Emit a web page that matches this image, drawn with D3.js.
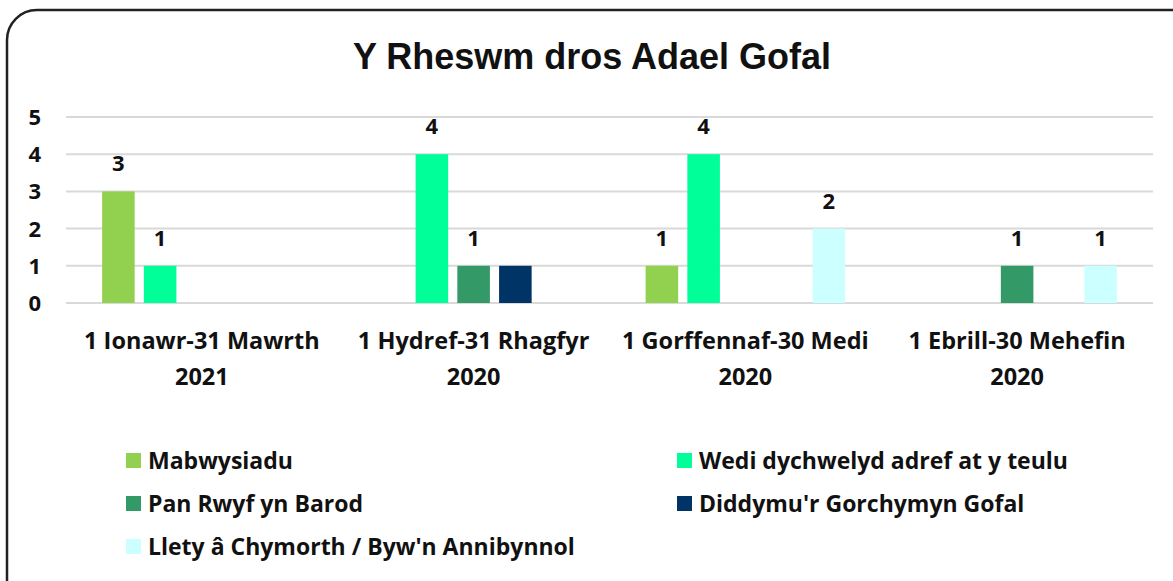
<!DOCTYPE html>
<html>
<head>
<meta charset="utf-8">
<script src="https://cdn.jsdelivr.net/npm/d3@7"></script>
<style>
  body { margin: 0; background: #fff; }
  svg text { font-family: "Open Sans", Lato, sans-serif; }
</style>
</head>
<body>
<div id="chart"></div>
<script>
const periods = [
    ["1 Ionawr-31 Mawrth", "2021"],
    ["1 Hydref-31 Rhagfyr", "2020"],
    ["1 Gorffennaf-30 Medi", "2020"],
    ["1 Ebrill-30 Mehefin", "2020"],
];
const reasons = [
    "Mabwysiadu",
    "Wedi dychwelyd adref at y teulu",
    "Pan Rwyf yn Barod",
    "Diddymu'r Gorchymyn Gofal",
    "Llety â Chymorth / Byw'n Annibynnol",
];
const colours = ["#92D050", "#00FF99", "#339966", "#003366", "#CCFFFF"];

// one row per period, one value per reason (0 = no bar)
const counts = [
    [3, 1, 0, 0, 0],
    [0, 4, 1, 1, 0],
    [1, 4, 0, 0, 2],
    [0, 0, 1, 0, 1],
];
// the Diddymu series has no data labels in the original
const labelled = [true, true, true, false, true];
const yTicks = [0, 1, 2, 3, 4, 5];

const width = 1173;
const height = 581;
const plotLeft = 66;
const plotRight = 1153;

const svg = d3.create("svg")
    .attr("width", width)
    .attr("height", height);

// frame
svg.append("rect")
    .attr("x", 7)
    .attr("y", 10)
    .attr("width", 1195)
    .attr("height", 600)
    .attr("rx", 30)
    .attr("fill", "#fff")
    .attr("stroke", "#222")
    .attr("stroke-width", 2.5);

svg.append("text")
    .attr("x", 592)
    .attr("y", 69)
    .attr("text-anchor", "middle")
    .attr("font-size", "36px")
    .attr("font-weight", "bold")
    .style("font-family", "'Liberation Sans', Arial, sans-serif")
    .attr("fill", "#111")
    .text("Y Rheswm dros Adael Gofal");

const y = d3.scaleLinear()
    .domain([0, 5])
    .range([303, 117]);

const x0 = d3.scaleBand()
    .domain(d3.range(periods.length))
    .range([plotLeft, plotRight])
    .paddingInner(0.232)
    .paddingOuter(0.116);

const x1 = d3.scaleBand()
    .domain(d3.range(reasons.length))
    .range([0, x0.bandwidth()])
    .paddingInner(0.22)
    .paddingOuter(0.11);

// gridlines
svg.append("g")
    .selectAll("line")
    .data(yTicks)
    .join("line")
    .attr("x1", plotLeft)
    .attr("x2", plotRight)
    .attr("y1", d => y(d))
    .attr("y2", d => y(d))
    .attr("stroke", "#d9d9d9")
    .attr("stroke-width", 2);

// y tick labels
svg.append("g")
    .selectAll("text")
    .data(yTicks)
    .join("text")
    .attr("x", 41)
    .attr("y", d => y(d))
    .attr("dy", "0.36em")
    .attr("text-anchor", "end")
    .attr("font-size", "22px")
    .attr("font-weight", "bold")
    .attr("fill", "#111")
    .text(d => d);

const cells = counts.flatMap((row, p) =>
    row.map((v, r) => ({ p, r, v })).filter(d => d.v > 0));

const groups = svg.append("g");

groups.selectAll("rect")
    .data(cells)
    .join("rect")
    .attr("x", d => x0(d.p) + x1(d.r))
    .attr("y", d => y(d.v))
    .attr("width", x1.bandwidth())
    .attr("height", d => y(0) - y(d.v))
    .attr("fill", d => colours[d.r]);

groups.selectAll("text")
    .data(cells.filter(d => labelled[d.r]))
    .join("text")
    .attr("x", d => x0(d.p) + x1(d.r) + x1.bandwidth() / 2)
    .attr("y", d => y(d.v) - 20)
    .attr("text-anchor", "middle")
    .attr("font-size", "22px")
    .attr("font-weight", "bold")
    .attr("fill", "#111")
    .text(d => d.v);

// category labels (two lines each)
const catLabels = svg.append("g")
    .selectAll("text")
    .data(periods)
    .join("text")
    .attr("text-anchor", "middle")
    .attr("font-size", "23.5px")
    .attr("font-weight", "bold")
    .attr("fill", "#111");

catLabels.selectAll("tspan")
    .data((d, i) => d.map(line => ({ line, i })))
    .join("tspan")
    .attr("x", d => x0(d.i) + x0.bandwidth() / 2)
    .attr("y", (d, j) => 349 + j * 36)
    .text(d => d.line);

// legend
const legendPos = [
    { x: 126, y: 461 },
    { x: 677, y: 461 },
    { x: 126, y: 504 },
    { x: 677, y: 504 },
    { x: 126, y: 547 },
];

const legend = svg.append("g")
    .selectAll("g")
    .data(reasons)
    .join("g")
    .attr("transform", (d, i) => `translate(${legendPos[i].x},${legendPos[i].y})`);

legend.append("rect")
    .attr("x", 0)
    .attr("y", -8)
    .attr("width", 15)
    .attr("height", 15)
    .attr("fill", (d, i) => colours[i]);

legend.append("text")
    .attr("x", 22)
    .attr("dy", "0.36em")
    .attr("font-size", "23px")
    .attr("font-weight", "bold")
    .attr("fill", "#111")
    .text(d => d);

d3.select("#chart").node().append(svg.node());
</script>
</body>
</html>
